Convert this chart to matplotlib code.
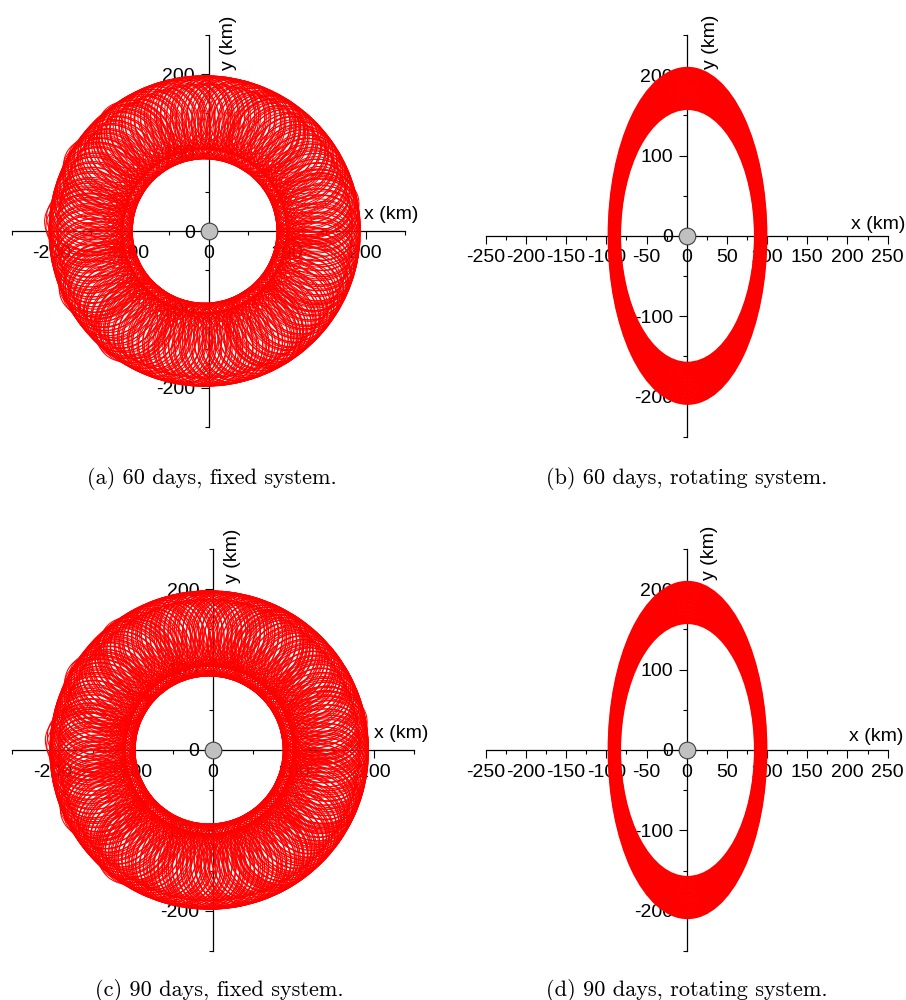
import matplotlib.pyplot as plt
from matplotlib.patches import Ellipse
from matplotlib.ticker import MultipleLocator
import numpy as np

plt.rcParams['font.family'] = ['Liberation Sans', 'DejaVu Sans']
plt.rcParams['axes.unicode_minus'] = False

# fixed system: loop centre angles (deg) read around the ring
fixed60_ang = [0, 3, 5, 8, 10, 13, 16, 18, 21, 23, 26, 29, 31, 34, 36, 39, 42, 44, 47, 49,
               52, 55, 57, 60, 62, 65, 68, 70, 73, 75, 78, 81, 83, 86, 88, 91, 94, 96, 99, 101,
               104, 107, 109, 112, 114, 117, 120, 122, 125, 127, 130, 133, 135, 138, 140, 143,
               146, 148, 151, 153, 156, 159, 161, 164, 166, 169, 172, 174, 177, 179, 182, 185,
               187, 190, 192, 195, 198, 200, 203, 205, 208, 211, 213, 216, 218, 221, 224, 226,
               229, 231, 234, 237, 239, 242, 244, 247, 250, 252, 255, 257, 260, 263, 265, 268,
               270, 273, 276, 278, 281, 283, 286, 289, 291, 294, 296, 299, 302, 304, 307, 309,
               312, 315, 317, 320, 322, 325, 328, 330, 333, 335, 338, 341, 343, 346, 348, 351,
               354, 356]
fixed90_ang = [0, 2, 4, 7, 9, 11, 13, 16, 18, 20, 22, 25, 27, 29, 31, 34, 36, 38, 40, 43,
               45, 47, 49, 52, 54, 56, 58, 61, 63, 65, 67, 70, 72, 74, 76, 79, 81, 83, 85, 88,
               90, 92, 94, 97, 99, 101, 103, 106, 108, 110, 112, 115, 117, 119, 121, 124, 126,
               128, 130, 133, 135, 137, 139, 142, 144, 146, 148, 151, 153, 155, 157, 160, 162,
               164, 166, 169, 171, 173, 175, 178, 180, 182, 184, 187, 189, 191, 193, 196, 198,
               200, 202, 205, 207, 209, 211, 214, 216, 218, 220, 223, 225, 227, 229, 232, 234,
               236, 238, 241, 243, 245, 247, 250, 252, 254, 256, 259, 261, 263, 265, 268, 270,
               272, 274, 277, 279, 281, 283, 286, 288, 290, 292, 295, 297, 299, 301, 304, 306,
               308, 310, 313, 315, 317, 319, 322, 324, 326, 328, 331, 333, 335, 337, 340, 342,
               344, 346, 349, 351, 353, 355, 358]
# loop families: centre radius, radial size, tangential size, angle shift (km, km, km, deg)
loop_r = [145, 140, 151]
loop_w = [106, 96, 94]
loop_h = [92, 62, 120]
loop_shift = [0, 1.1, 0.6]
ring_dx = -5      # ring offset in x (km)

# outer bumps of the fixed-system ring: angle (deg), radial size (km)
bump_ang = [10, 12, 14, 56, 58, 60, 126, 128, 130, 148, 150, 152, 174, 176, 178,
            204, 206, 208, 230, 232, 234, 300, 302, 304, 336, 338, 340]
bump_w = [106, 108, 106, 104, 106, 104, 106, 108, 106, 108, 110, 108, 110, 112, 110,
          108, 110, 108, 108, 110, 108, 104, 106, 104, 104, 106, 104]

# rotating system: semi-axes of the traced ellipses (km)
rot_a = [84, 84.5, 85, 85.5, 86, 86.5, 87, 87.5, 88, 88.5, 89, 89.5, 90, 90.5, 91,
         91.5, 92, 92.5, 93, 93.5, 94, 94.5, 95, 95.5, 96, 96.5, 97, 97.5, 98]
rot_b = [158, 160, 162, 164, 165, 167, 169, 171, 173, 174, 176, 178, 180, 182, 183,
         185, 187, 189, 191, 192, 194, 196, 198, 200, 201, 203, 205, 207, 209]

captions = ['(a) 60 days, fixed system.', '(b) 60 days, rotating system.',
            '(c) 90 days, fixed system.', '(d) 90 days, rotating system.']

fig = plt.figure(figsize=(9.06, 10), dpi=100)

boxes = [[0.0133, 0.573, 0.4338, 0.392],
         [0.5361, 0.5633, 0.4437, 0.4017],
         [0.0133, 0.049, 0.444, 0.402],
         [0.5361, 0.049, 0.4437, 0.402]]


def setup(ax, xmaj, xmin):
    ax.set_xlim(-250, 250)
    ax.set_ylim(-250, 250)
    for s in ['top', 'right']:
        ax.spines[s].set_visible(False)
    for s in ['left', 'bottom']:
        ax.spines[s].set_position(('data', 0))
        ax.spines[s].set_linewidth(0.9)
        ax.spines[s].set_zorder(0.5)
    ax.set_axisbelow(True)
    ax.xaxis.set_major_locator(MultipleLocator(xmaj))
    ax.xaxis.set_minor_locator(MultipleLocator(xmin))
    ax.yaxis.set_major_locator(MultipleLocator(100))
    ax.yaxis.set_minor_locator(MultipleLocator(50))
    ax.tick_params(which='major', length=5.8, width=0.8, labelsize=14, pad=4)
    ax.tick_params(which='minor', length=3, width=0.8)
    ax.patch.set_visible(False)


def loop(ax, a, r, w, h):
    t = np.deg2rad(a)
    e = Ellipse((ring_dx + r*np.cos(t), r*np.sin(t)), w, h, angle=a,
                fill=False, ec='#ff0000', lw=0.75, zorder=1)
    ax.add_patch(e)


def fixed_plot(ax, angs):
    for r, w, h, sh in zip(loop_r, loop_w, loop_h, loop_shift):
        for a in angs:
            loop(ax, a + sh, r, w, h)
    for a, w in zip(bump_ang, bump_w):
        loop(ax, a, 92 + w/2, w, 84)


def rot_plot(ax):
    for a, b in zip(rot_a, rot_b):
        e = Ellipse((1, 0), 2*a, 2*b, fill=False, ec='#ff0000', lw=1.6, zorder=1)
        ax.add_patch(e)


xlab = [(1.033, 0.53), (1.045, 0.516), (1.035, 0.529), (1.038, 0.523)]
ylab = [(0.552, 0.98), (0.558, 0.9826), (0.549, 0.9826), (0.5555, 0.99)]

for i in range(4):
    ax = fig.add_axes(boxes[i])
    if i % 2 == 0:
        setup(ax, 100, 50)
        fixed_plot(ax, fixed60_ang if i == 0 else fixed90_ang)
    else:
        setup(ax, 50, 25)
        rot_plot(ax)
    ax.plot([0], [0], 'o', ms=12, mfc='#c0c0c0', mec='#404040', mew=0.8, zorder=5)
    ax.text(xlab[i][0], xlab[i][1], 'x (km)', transform=ax.transAxes, ha='right',
            va='baseline', fontsize=14)
    ax.text(ylab[i][0], ylab[i][1], 'y (km)', transform=ax.transAxes, ha='center',
            va='center', rotation=90, fontsize=14)

fig.text(0.234, 0.522, captions[0], ha='center', va='center', fontfamily='cmr10', fontsize=16)
fig.text(0.7577, 0.522, captions[1], ha='center', va='center', fontfamily='cmr10', fontsize=16)
fig.text(0.2417, 0.010, captions[2], ha='center', va='center', fontfamily='cmr10', fontsize=16)
fig.text(0.7577, 0.010, captions[3], ha='center', va='center', fontfamily='cmr10', fontsize=16)

fig.savefig('out.png', dpi=100)
